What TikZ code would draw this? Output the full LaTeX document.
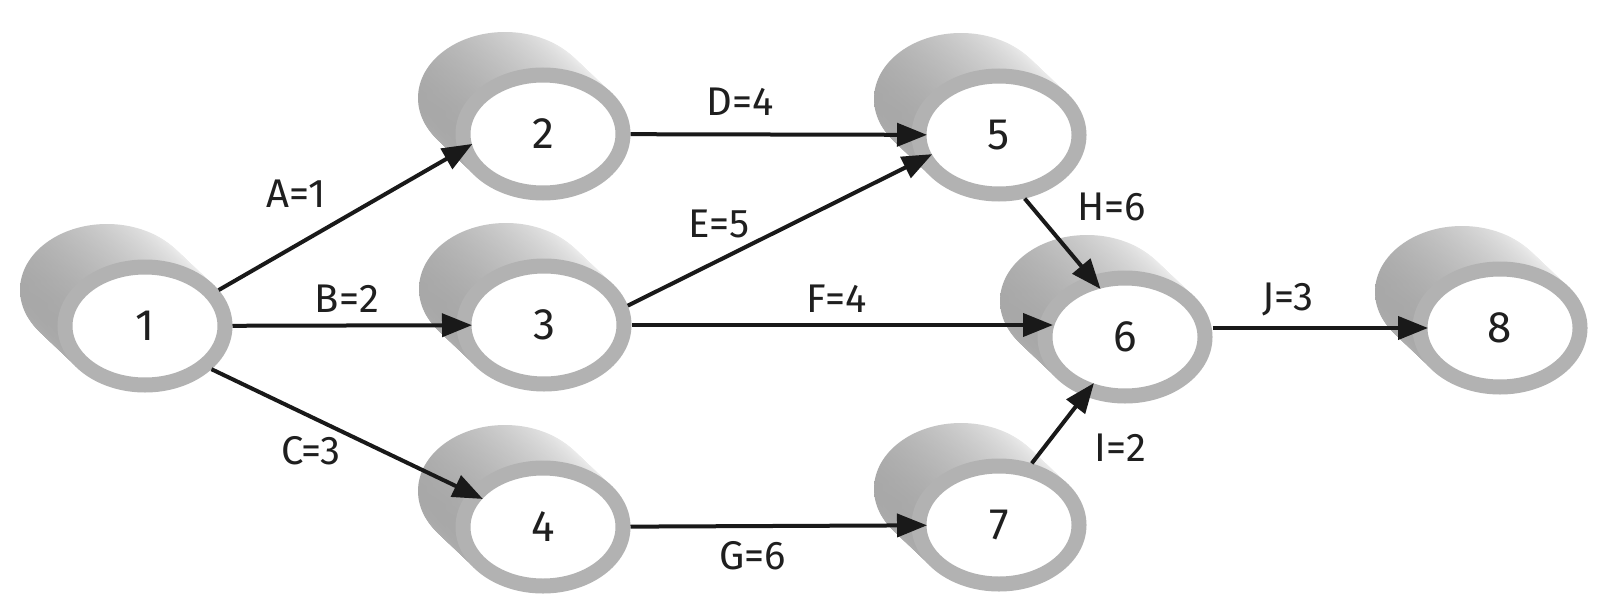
\documentclass[tikz,border=0pt]{standalone}
\usepackage{fontspec}
\setmainfont{Fira Sans}
\usetikzlibrary{shapes.geometric,arrows.meta}
\begin{document}
\begin{tikzpicture}[x=0.5pt,y=-0.5pt,
  ring/.style={ellipse, draw=black!30, line width=7.5pt, fill=white,
    minimum width=80pt, minimum height=59pt, inner sep=0pt,
    text=black!88, font=\fontsize{22}{26}\selectfont},
  hole/.style={ellipse, minimum width=72pt, minimum height=51pt,
    inner sep=0pt, outer sep=0pt},
  lbl/.style={font=\fontsize{20}{24}\selectfont, inner sep=0pt, text=black!88},
  arr/.style={line width=2pt, draw=black!90,
    -{Triangle[length=15pt,width=11.5pt]}}]
\useasboundingbox[fill=white] (0,0) rectangle (1600,605);
\newcommand\myblob[3]{%
  \foreach \k in {0,...,39}{%
    \pgfmathsetmacro\dx{-38+38*\k/40}%
    \pgfmathsetmacro\dy{-36+36*\k/40}%
    \shade[left color=black!34, right color=black!3]
      (#1+\dx,#2+\dy) ellipse [x radius=43.5pt, y radius=33pt];
  }%
  \node[ring] (n#3) at (#1,#2) {#3};
  \node[hole] (h#3) at (#1,#2) {};
}
\myblob{145}{326}{1}
\myblob{543}{134}{2}
\myblob{544}{325}{3}
\myblob{543}{527}{4}
\myblob{999}{135}{5}
\myblob{1125}{337}{6}
\myblob{999}{525}{7}
\myblob{1500}{328}{8}
% connectors
\draw[arr] (n1.26) -- (h2.188);
\draw[arr] (n1) -- (h3);
\draw[arr] (n1.-33) -- (h4.155);
\draw[arr] (n2) -- (h5);
\draw[arr] (n3.13) -- (h5.196);
\draw[arr] (n3.east) -- (n3.east -| h6.west);
\draw[arr] (n4) -- (h7);
\draw[arr] (n5.-68) -- (h6.117);
\draw[arr] (n7.62) -- (h6.236);
\draw[arr] (n6.east |- n8) -- (h8);
% labels
\node[lbl] (lA) at (296,194) {A=1};
\node[lbl] (lB) at (347,299) {B=2};
\node[lbl] (lC) at (311,451) {C=3};
\node[lbl] (lD) at (740,102) {D=4};
\node[lbl] (lE) at (719,224) {E=5};
\node[lbl] (lF) at (837,299) {F=4};
\node[lbl] (lG) at (753,556) {G=6};
\node[lbl] (lH) at (1112,207) {H=6};
\node[lbl] (lI) at (1120,448) {I=2};
\node[lbl] (lJ) at (1288,299) {J=3};
\end{tikzpicture}
\end{document}
